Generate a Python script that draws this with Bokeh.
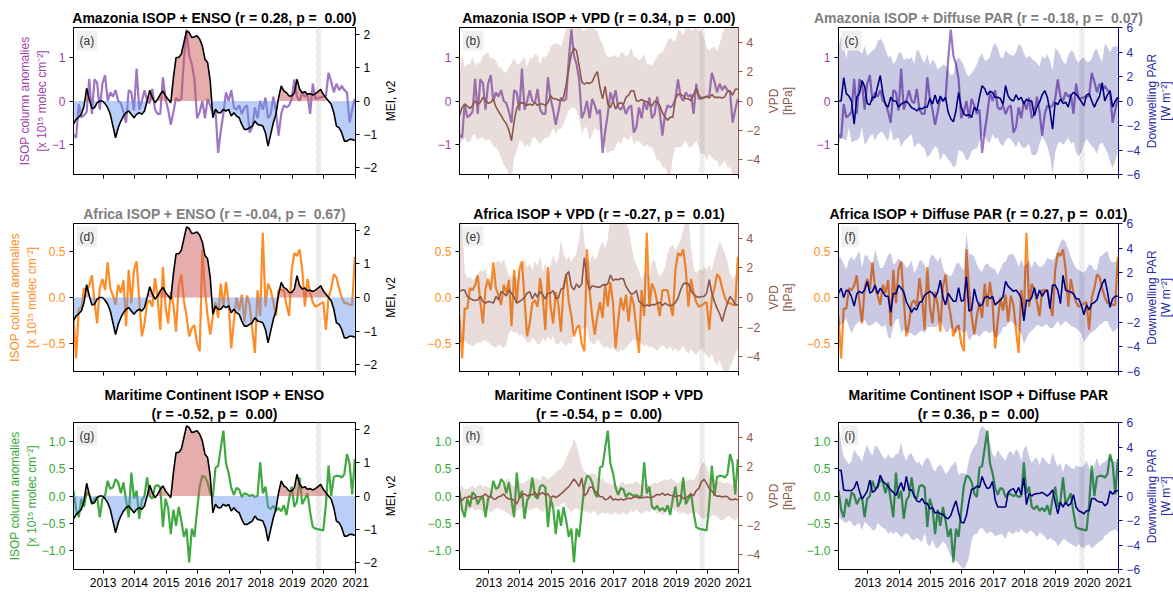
import numpy as np
from bokeh.embed import file_html
from bokeh.layouts import gridplot
from bokeh.models import (BoxAnnotation, CustomJSTickFormatter, FixedTicker, Label,
                          LinearAxis, Range1d, Title)
from bokeh.plotting import figure
from bokeh.resources import INLINE

FONT = "Liberation Sans"
NAN = float("nan")

# Monthly time axis (Jan 2012 .. Dec 2020) in decimal years
months = np.arange(108)
t = 2012 + (months + 0.75) / 12
X_START, X_END = t[0], 2021.0
GAP_START, GAP_END = 2019.75, 2019.917
YEAR_TICKS = list(range(2013, 2022))

# ---------------- ISOP column anomalies [x 1e15 molec cm-2] ----------------
isop_amazonia = [
    -0.77, -0.85, -0.07, -0.38, -0.33, -0.25, 0.51, -0.30, 0.50, 0.42, -0.20, 0.40,
    0.60, 0.00, 0.20, 0.10, 0.25, 0.00, -0.05, -0.25, -0.50, 0.25, 0.20, -0.22,
    0.75, -0.20, 0.00, 0.25, 0.00, -0.05, 0.28, -0.20, -0.30, -0.30, 0.55, 0.05,
    -0.20, -0.55, -0.25, 0.08, 0.00, 0.05, 0.95, 1.65, 1.05, 0.85, 0.50, -0.40,
    -0.25, 0.00, -0.40, 0.05, -0.10, -0.30, -0.20, -1.20, -0.70, -0.30, 0.20, 0.00,
    0.25, -0.15, -0.20, -0.10, -0.30, -0.15, -0.10, -0.73, -0.60, -0.15, -0.40, 0.00,
    -0.20, 0.08, -0.40, -0.30, 0.10, -0.25, -0.80, -0.30, -0.10, -0.15, -0.10, 0.05,
    0.50, 0.10, 0.00, 0.20, 0.10, 0.15, -0.30, 0.40, 0.05, NAN, NAN, 0.10,
    0.12, 0.65, 0.45, 0.20, 0.40, 0.25, 0.35, 0.25, 0.20, -0.50, -0.20, 0.05,
]
isop_africa = [
    -0.20, -0.66, -0.12, -0.12, 0.10, 0.08, 0.13, 0.24, -0.05, -0.28, 0.10, 0.20,
    0.08, 0.38, 0.10, 0.02, -0.08, 0.14, 0.05, 0.19, -0.31, 0.30, -0.06, 0.30,
    0.39, -0.02, -0.42, -0.28, -0.06, -0.03, -0.10, 0.21, 0.00, -0.35, 0.33, -0.10,
    -0.28, 0.06, -0.08, -0.37, 0.12, 0.25, -0.04, -0.20, -0.42, -0.33, -0.30, -0.50,
    -0.58, 0.52, 0.08, -0.20, -0.40, -0.20, -0.05, -0.22, 0.15, -0.10, 0.17, -0.05,
    -0.55, -0.25, 0.00, -0.14, 0.03, -0.26, 0.02, -0.08, -0.35, -0.60, 0.08, -0.20,
    0.70, -0.10, 0.15, 0.08, -0.05, -0.20, 0.08, 0.08, 0.08, -0.08, -0.20, 0.30,
    0.48, 0.45, 0.52, 0.30, -0.10, 0.20, 0.05, -0.05, -0.10, NAN, NAN, -0.05,
    -0.35, 0.00, 0.10, 0.25, 0.22, 0.10, 0.00, -0.06, -0.06, -0.08, -0.08, 0.44,
]
isop_maritime = [
    0.10, -0.25, -0.39, -0.05, -0.20, 0.07, 0.02, -0.15, -0.05, -0.02, -0.39, -0.05,
    0.00, 0.28, 0.13, 0.16, 0.31, 0.25, 0.05, 0.25, -0.08, -0.39, 0.43, -0.05,
    0.10, -0.42, -0.08, 0.00, 0.34, 0.00, -0.05, 0.18, 0.20, 0.16, -0.57, -0.05,
    -0.22, -0.70, -0.25, -0.55, -0.20, -0.45, -0.75, -0.60, -1.22, -0.60, -0.75, -0.27,
    0.18, 0.37, 0.35, 0.25, 0.05, -0.02, 0.52, 0.55, 0.88, 1.20, 0.60, 0.42,
    0.15, 0.02, 0.15, 0.12, -0.02, 0.05, 0.03, 0.00, 0.02, -0.02, 0.00, 0.62,
    0.05, 0.17, -0.20, -0.24, -0.18, -0.27, -0.22, -0.28, -0.17, -0.35, -0.05, 0.17,
    -0.20, -0.10, 0.34, -0.15, -0.05, 0.05, -0.30, -0.57, -0.60, NAN, NAN, -0.63,
    -0.15, 0.56, 0.00, 0.35, 0.37, 0.37, 0.34, 0.40, 0.77, 0.60, 0.03, 0.68,
]

# ---------------- Multivariate ENSO Index, v2 ----------------
mei = [
    -0.69, -0.55, -0.48, -0.40, -0.15, 0.38, 0.05, -0.22, -0.20, -0.05, 0.00, 0.00,
    -0.08, -0.20, -0.40, -0.75, -1.10, -0.80, -0.60, -0.45, -0.35, -0.30, -0.40, -0.50,
    -0.40, -0.35, -0.40, -0.30, 0.00, 0.32, 0.10, -0.05, 0.05, 0.20, 0.30, 0.15,
    0.05, -0.05, 0.70, 1.30, 1.30, 1.40, 1.75, 2.10, 2.05, 1.90, 1.92, 1.95,
    1.85, 1.65, 1.25, 1.15, 0.60, -0.50, -0.25, -0.35, -0.35, -0.25, -0.30, -0.25,
    -0.45, -0.35, -0.45, -0.50, -0.70, -0.85, -0.85, -0.80, -0.75, -0.60, -0.70, -0.72,
    -0.75, -0.95, -1.35, -1.00, -0.65, -0.40, 0.10, 0.45, 0.30, 0.25, 0.15, 0.15,
    0.25, 0.65, 0.35, 0.25, 0.28, 0.20, 0.22, 0.18, 0.22, 0.28, 0.35, 0.20,
    0.10, 0.00, -0.10, -0.35, -0.75, -0.80, -0.95, -1.20, -1.20, -1.15, -1.15, -1.18,
]

# ---------------- VPD anomalies [hPa]: mean, lower, upper ----------------
vpd_amazonia = [
    -1.0, -0.45, -0.2, -0.35, -0.5, -0.3, 0.0, -0.2, -0.1, 0.25, 0.05, -0.15,
    -0.1, 0.14, -0.4, -0.7, -1.0, -1.3, -1.55, -2.0, -2.7, -1.4, -0.5, -0.2,
    -0.1, -0.2, -0.3, -0.2, -0.3, -0.1, -0.3, -0.2, -0.2, -0.3, -0.1, 0.36,
    0.15, 0.15, 0.05, 0.05, 0.25, 1.1, 2.2, 3.2, 3.6, 3.4, 2.4, 1.3,
    1.15, 1.25, 1.2, 1.3, 1.7, 2.0, 0.9, 0.15, 1.0, -0.2, -0.45, 0.0,
    -0.55, -0.2, -0.1, -0.25, 0.25, 0.4, 0.7, 0.7, 0.0, 0.0, 0.1, 0.0,
    -0.05, -0.2, -0.35, 0.0, -0.1, -0.3, -0.8, -1.1, -1.3, -1.1, -1.1, 0.15,
    0.45, 0.45, 0.35, 0.15, 0.15, 0.0, 0.45, 0.85, 0.4, 0.15, 0.25, 0.3,
    0.2, 0.45, 0.25, 0.25, 0.25, 0.2, 0.3, 0.65, 0.7, 0.4, 0.8, 0.8,
]
vpd_amazonia_lo = [
    -3.15, -2.7, -2.5, -2.8, -2.8, -2.35, -2.25, -2.7, -2.5, -2.5, -2.7, -2.6,
    -2.7, -3.15, -3.15, -3.4, -3.85, -4.3, -4.6, -5.0, -5.3, -3.85, -3.4, -2.7,
    -2.7, -3.15, -2.95, -3.15, -2.5, -2.5, -2.7, -2.95, -2.7, -2.5, -2.5, -2.25,
    -1.8, -2.25, -1.9, -1.9, -1.55, -1.1, -0.65, -0.45, -0.45, -0.65, -1.1, -2.25,
    -1.8, -1.8, -2.7, -2.25, -1.8, -2.0, -2.0, -2.7, -3.15, -3.6, -3.4, -3.4,
    -3.15, -2.7, -2.95, -2.5, -2.5, -2.7, -2.25, -2.95, -2.7, -2.7, -2.95, -3.15,
    -2.95, -3.15, -3.15, -3.6, -4.05, -4.05, -4.5, -4.5, -5.0, -5.3, -3.85, -3.15,
    -3.15, -3.15, -2.95, -2.7, -3.15, -3.15, -2.95, -2.7, -3.15, -3.6, -3.6, -4.05,
    -3.6, -3.85, -4.05, -4.05, -4.5, -4.3, -4.05, -4.5, -4.5, -5.0, -5.3, -5.3,
]
vpd_amazonia_hi = [
    1.84, 3.2, 2.3, 2.5, 2.5, 3.0, 2.4, 2.6, 2.6, 3.1, 3.2, 3.3,
    2.9, 2.9, 2.75, 2.3, 2.3, 1.95, 1.95, 2.3, 2.6, 2.9, 2.5, 2.5,
    2.75, 3.0, 2.3, 2.9, 2.9, 3.2, 3.1, 2.5, 3.0, 3.0, 3.2, 3.65,
    3.9, 3.9, 3.9, 3.65, 4.3, 4.9, 5.3, 5.3, 5.3, 5.3, 5.3, 4.8,
    4.8, 4.9, 5.3, 5.3, 4.8, 4.8, 4.2, 3.9, 3.3, 3.0, 3.0, 3.1,
    3.1, 2.9, 3.3, 3.3, 3.0, 3.2, 3.65, 3.0, 3.0, 2.75, 2.9, 3.2,
    2.5, 2.5, 2.4, 2.75, 3.0, 3.3, 3.3, 3.65, 4.1, 4.3, 4.1, 4.1,
    4.8, 4.8, 4.45, 5.0, 5.0, 4.8, 4.9, 5.0, 4.8, 4.8, 4.3, 3.65,
    3.4, 3.65, 3.65, 3.4, 3.9, 4.6, 5.0, 5.0, 5.3, 5.3, 5.3, 5.3,
]
vpd_africa = [
    0.4, 0.5, 0.5, 0.07, -0.05, -0.16, -0.2, -0.16, 0.07, -0.27, -0.38, -0.27,
    -0.3, -0.38, 0.07, -0.16, 0.4, 0.29, 0.1, 0.52, 0.29, 0.02, -0.38, -0.27,
    -0.16, 0.02, 0.29, 0.4, -0.1, 0.29, 0.02, 0.4, 0.18, -0.1, 0.29, 0.29,
    0.47, -0.05, -0.05, 0.56, 0.63, 1.53, 1.75, 0.74, 0.52, 0.92, 0.68, 0.92,
    2.7, 1.2, 0.52, 0.8, 0.74, 0.7, 0.7, 0.85, 0.85, 0.92, 1.53, 1.15,
    1.24, 1.2, 1.28, 1.26, 0.74, 0.47, 0.22, 0.29, 0.47, -0.27, -0.38, -0.6,
    -0.5, -0.56, -0.47, -0.5, -0.38, -0.34, -0.54, -0.38, -0.5, -0.56, -0.5, -0.34,
    -0.05, 0.52, 0.92, 0.97, 0.92, 0.47, 0.22, 0.07, 0.0, 0.07, 0.07, 0.29,
    1.2, 0.29, -0.27, -0.72, -1.1, -1.62, -0.95, -0.38, 0.07, -0.16, -0.5, -0.5,
]
vpd_africa_lo = [
    -2.9, -3.0, -2.9, -3.1, -3.2, -3.3, -3.2, -3.0, -3.1, -2.9, -2.9, -3.0,
    -3.2, -3.3, -3.4, -3.2, -3.3, -3.4, -3.2, -2.4, -2.2, -2.4, -2.3, -2.6,
    -2.5, -2.8, -3.0, -3.1, -2.7, -2.9, -3.2, -3.1, -2.7, -3.0, -2.6, -2.9,
    -2.6, -3.1, -3.2, -2.9, -3.1, -3.3, -3.0, -3.2, -2.0, -2.1, -1.9, -2.2,
    -2.0, -2.1, -2.9, -3.1, -3.2, -2.8, -3.0, -3.3, -3.4, -3.3, -3.5, -3.3,
    -3.6, -3.7, -3.5, -3.6, -3.4, -3.2, -3.0, -2.8, -3.0, -2.9, -3.1, -3.3,
    -3.2, -3.4, -3.3, -3.5, -3.6, -3.4, -3.2, -3.4, -3.5, -3.3, -3.6, -3.4,
    -3.7, -3.5, -3.3, -3.6, -3.8, -3.5, -3.7, -3.9, -3.6, -3.4, -3.7, -3.9,
    -4.1, -3.8, -4.3, -4.6, -4.2, -4.8, -5.1, -5.2, -4.7, -4.3, -3.8, -3.5,
]
vpd_africa_hi = [
    5.3, 5.3, 1.8, 1.3, 1.4, 1.2, 1.3, 1.6, 1.9, 1.7, 2.0, 1.1,
    0.9, 1.6, 2.4, 2.5, 2.3, 2.6, 2.0, 1.5, 1.4, 1.6, 1.3, 1.7,
    2.3, 2.6, 2.0, 2.3, 1.8, 2.5, 2.1, 2.8, 1.7, 2.4, 1.6, 2.2,
    2.9, 2.3, 2.6, 3.9, 3.0, 2.5, 2.8, 2.4, 2.7, 3.0, 4.0, 5.4,
    3.8, 2.6, 2.4, 2.9, 2.5, 2.8, 3.4, 3.8, 3.3, 4.0, 5.4, 5.4,
    5.4, 5.4, 5.4, 5.4, 5.0, 4.6, 3.6, 2.6, 2.2, 1.8, 1.2, 1.6,
    1.9, 1.3, 2.4, 2.6, 1.8, 1.4, 1.7, 2.0, 3.0, 3.4, 3.6, 3.2,
    3.5, 3.9, 4.6, 5.4, 5.4, 3.4, 2.0, 1.6, 1.9, 1.8, 2.1, 1.9,
    2.2, 1.8, 2.6, 3.2, 3.8, 3.4, 3.0, 2.4, 1.6, 1.2, 1.5, 1.3,
]
vpd_maritime = [
    -0.1, -0.3, -0.1, -0.1, 0.0, -0.2, -0.1, -0.05, -0.05, 0.0, 0.14, -0.05,
    0.0, -0.2, -0.2, -0.05, 0.0, 0.14, -0.1, -0.2, -0.2, -0.3, -0.55, -0.15,
    0.1, 0.14, 0.0, 0.1, 0.07, 0.25, 0.0, 0.14, 0.23, 0.07, 0.14, -0.14,
    0.0, -0.1, 0.0, 0.14, 0.3, 0.48, 0.64, 0.89, 1.16, 0.93, 0.64, 1.23,
    0.0, 0.18, 0.6, 0.6, 0.34, 0.2, -0.05, -0.05, -0.25, -0.2, 0.0, -0.27,
    -0.2, -0.27, -0.2, -0.27, -0.2, -0.15, -0.18, -0.07, -0.05, -0.14, -0.11, -0.1,
    -0.07, -0.1, -0.11, 0.0, 0.11, 0.07, 0.2, 0.05, 0.14, 0.05, 0.02, -0.05,
    0.02, 0.02, -0.18, -0.15, 0.0, 0.1, 0.02, 0.36, 0.52, 0.98, 1.14, 0.86,
    0.52, 0.34, 0.11, -0.02, 0.0, -0.07, -0.02, -0.05, -0.23, -0.25, -0.2, -0.27,
]
vpd_maritime_lo = [
    -0.9, -1.1, -1.0, -0.95, -0.9, -0.8, -1.0, -0.9, -0.95, -1.1, -0.8, -0.9,
    -1.1, -1.0, -0.8, -0.85, -0.95, -1.0, -1.1, -1.2, -1.4, -1.3, -1.0, -0.9,
    -0.8, -0.9, -0.8, -1.0, -0.9, -0.85, -0.8, -1.0, -1.1, -0.8, -1.0, -0.9,
    -0.8, -0.7, -0.75, -0.55, -0.45, -0.7, -0.9, -1.1, -0.9, -0.8, -1.0, -0.9,
    -1.1, -1.0, -1.2, -1.1, -1.0, -1.3, -1.25, -1.1, -1.2, -1.1, -1.3, -1.2,
    -1.1, -1.3, -1.2, -1.1, -1.3, -1.15, -1.0, -1.1, -0.9, -1.1, -1.2, -1.1,
    -1.0, -1.1, -0.9, -1.0, -1.2, -1.1, -1.3, -1.2, -1.0, -0.9, -0.8, -1.0,
    -1.1, -1.2, -1.1, -1.2, -1.3, -1.15, -1.2, -1.1, -1.25, -1.45, -1.6, -1.4,
    -1.5, -1.35, -1.3, -1.4, -1.6, -1.68, -1.55, -1.35, -1.4, -1.6, -1.7, -1.5,
]
vpd_maritime_hi = [
    0.6, 0.7, 0.4, 0.5, 0.6, 0.7, 0.5, 0.7, 0.8, 0.6, 0.7, 0.6,
    0.45, 0.4, 0.8, 0.75, 0.9, 0.6, 1.1, 1.2, 0.8, 0.6, 1.0, 0.95,
    0.85, 0.9, 1.05, 1.25, 0.95, 1.2, 1.15, 1.05, 1.4, 1.3, 1.1, 1.27,
    1.4, 1.6, 1.75, 1.84, 2.1, 2.6, 3.0, 3.3, 3.9, 3.5, 2.8, 2.0,
    1.7, 1.5, 1.45, 1.55, 1.5, 1.3, 1.1, 1.2, 0.95, 0.9, 0.8, 0.8,
    0.75, 0.65, 0.9, 0.95, 0.75, 0.85, 0.85, 0.9, 1.0, 0.85, 0.75, 0.8,
    0.9, 0.7, 0.8, 0.9, 0.85, 0.95, 1.05, 1.15, 1.05, 1.2, 1.1, 0.95,
    0.85, 1.0, 0.95, 1.0, 1.1, 1.15, 1.05, 1.4, 1.6, 2.2, 2.3, 2.0,
    1.5, 1.1, 1.15, 0.95, 1.05, 0.9, 0.85, 0.95, 0.8, 0.75, 0.8, 0.65,
]

# ---------------- Downwelling diffuse PAR anomalies [W m-2] ----------------
par_amazonia = [
    0.0, 0.0, 1.9, 0.6, 0.4, 0.0, -1.9, 0.3, 0.6, 1.67, 1.2, -0.2,
    -0.3, 0.3, 0.3, 1.2, 2.08, 0.6, -0.3, -0.5, 0.3, 0.0, 0.0, -0.5,
    -0.25, -0.15, 0.0, -0.25, -0.55, -0.65, -0.8, -0.6, -0.65, -0.5, -0.5, 0.2,
    -0.25, 0.5, -0.25, 0.4, 0.0, 0.3, -0.9, -1.45, -1.7, -0.8, 0.7, -0.5,
    -1.05, -1.2, -1.1, -1.35, -0.5, -0.8, 0.3, 1.25, 1.0, 0.5, 0.8, 0.7,
    0.3, 0.3, 0.2, -0.3, 1.25, 0.4, 0.1, 0.0, 0.5, 0.1, 0.3, -0.25,
    0.15, 0.0, 0.0, -1.2, -0.5, -0.1, 0.5, 0.85, 0.3, -0.8, -2.3, -0.1,
    -0.3, 0.15, -0.2, -0.1, -0.5, 0.45, 0.7, 0.55, 0.3, -0.05, -0.4, 0.5,
    0.6, 0.0, -0.5, 0.0, 0.4, 1.5, 0.0, 0.5, 0.85, -0.5, 0.0, 0.3,
]
par_amazonia_lo = [
    -3.5, -3.0, -3.1, -3.25, -2.16, -3.4, -3.25, -3.2, -3.0, -2.16, -3.6, -3.3,
    -2.9, -2.7, -3.25, -2.8, -2.5, -2.6, -2.98, -3.25, -2.2, -3.2, -3.1, -3.0,
    -3.8, -3.3, -3.1, -2.9, -2.7, -3.8, -3.5, -3.45, -3.7, -3.9, -4.6, -4.4,
    -4.0, -3.7, -3.9, -4.9, -4.3, -4.4, -4.8, -5.0, -5.44, -5.2, -4.0, -4.1,
    -4.3, -4.9, -4.7, -4.1, -3.9, -3.9, -3.25, -2.8, -2.9, -3.3, -3.4, -2.7,
    -3.1, -3.0, -3.5, -3.7, -3.25, -3.0, -3.1, -3.4, -3.8, -3.25, -3.7, -3.9,
    -3.7, -3.5, -4.34, -4.45, -4.3, -3.5, -2.9, -3.25, -3.7, -4.5, -5.98, -4.2,
    -3.52, -3.3, -3.6, -3.3, -3.0, -3.5, -3.3, -4.2, -4.5, -4.2, -3.52, -3.1,
    -3.4, -3.7, -3.9, -4.34, -3.5, -3.4, -3.8, -4.2, -4.9, -5.5, -4.9, -4.1,
]
par_amazonia_hi = [
    4.4, 5.3, 4.5, 3.5, 4.54, 5.0, 4.3, 4.2, 4.1, 3.85, 4.5, 3.7,
    3.9, 4.1, 4.26, 4.85, 5.1, 4.8, 4.2, 3.58, 3.7, 3.0, 3.3, 3.9,
    4.0, 3.3, 3.5, 3.4, 3.6, 3.03, 4.2, 4.0, 3.4, 3.1, 3.85, 2.9,
    3.4, 3.1, 2.6, 2.76, 2.95, 2.9, 2.5, 2.1, 2.21, 3.3, 3.55, 3.3,
    2.9, 2.21, 2.0, 2.3, 2.6, 3.0, 3.58, 3.9, 3.3, 3.3, 3.6, 4.4,
    4.75, 4.3, 3.6, 3.5, 4.13, 3.9, 3.75, 3.7, 4.0, 4.67, 4.5, 3.9,
    3.5, 3.72, 3.44, 3.3, 3.1, 2.8, 3.7, 3.44, 3.8, 3.3, 2.5, 4.3,
    4.13, 3.7, 3.2, 3.0, 3.7, 4.13, 4.0, 3.4, 3.1, 3.44, 3.58, 3.2,
    3.2, 3.44, 4.1, 4.26, 3.6, 3.2, 4.7, 4.4, 4.0, 4.4, 4.5, 4.4,
]
par_africa = [
    0.35, 0.75, 0.0, 0.6, 0.5, 0.05, -0.7, 0.3, 0.5, 0.35, 0.6, 1.3,
    0.35, 0.5, 1.0, 0.3, 0.75, 0.45, 0.1, 0.1, -1.2, 0.35, 0.3, 1.0,
    0.75, 0.45, -0.35, -0.75, -1.2, -0.85, -1.0, -0.4, -0.3, 0.2, 0.35, 0.5,
    0.35, 0.0, 0.45, 1.4, 0.0, -0.6, 0.35, 0.0, -0.3, -0.3, 0.8, -0.3,
    -0.2, 1.7, -1.1, -1.0, 0.7, -0.2, -0.7, -0.6, 0.0, 0.1, -0.1, 0.1,
    -0.6, -0.4, -0.2, 0.05, 1.3, 0.9, 0.7, 0.5, 0.6, 0.35, -0.1, -1.9,
    -0.2, -0.3, 0.0, 0.8, -0.1, 0.6, 0.1, 0.45, 0.6, -0.9, 1.0, 1.0,
    0.6, -0.5, 1.8, 0.6, 0.5, 0.45, 0.3, -0.1, -0.1, -0.6, -1.4, -0.6,
    -1.0, -0.5, -0.4, -0.2, 0.5, 1.1, 1.5, 0.5, -0.8, -0.1, 0.1, 0.1,
]
par_africa_lo = [
    -2.4, -2.2, -2.0, -1.7, -2.4, -2.9, -2.4, -2.1, -1.9, -2.0, -1.8, -2.2,
    -2.3, -2.2, -2.0, -2.0, -2.3, -2.4, -2.2, -3.2, -3.3, -2.3, -1.8, -1.7,
    -2.9, -2.6, -2.8, -2.9, -2.9, -3.1, -3.0, -2.8, -2.7, -2.9, -2.4, -2.4,
    -2.4, -2.4, -2.3, -1.9, -2.3, -2.8, -2.8, -2.4, -2.7, -2.9, -2.6, -2.7,
    -2.9, -2.7, -3.5, -3.2, -2.9, -3.0, -3.2, -2.9, -2.7, -2.8, -2.9, -2.7,
    -3.2, -3.2, -2.9, -2.4, -2.4, -2.1, -1.9, -2.1, -2.3, -2.7, -2.9, -3.8,
    -3.3, -2.9, -2.7, -2.5, -2.2, -2.3, -2.4, -2.2, -2.2, -2.5, -2.5, -2.2,
    -1.9, -2.3, -2.1, -1.9, -2.1, -2.3, -2.4, -2.5, -2.7, -2.9, -3.6, -3.3,
    -3.0, -2.8, -2.7, -2.5, -2.2, -2.1, -1.9, -1.9, -2.4, -2.8, -2.7, -2.4,
]
par_africa_hi = [
    3.3, 3.2, 2.7, 2.3, 3.05, 3.3, 3.0, 3.4, 3.8, 2.4, 3.4, 3.4,
    3.0, 2.7, 3.9, 3.1, 2.4, 2.4, 2.9, 3.45, 3.65, 2.7, 2.8, 3.2,
    2.9, 2.8, 2.4, 2.6, 3.0, 2.0, 2.35, 3.0, 3.0, 2.6, 2.0, 3.2,
    3.5, 3.2, 2.9, 3.3, 2.4, 1.95, 1.8, 1.7, 2.1, 2.7, 2.85, 2.5,
    2.2, 5.2, 3.5, 3.5, 3.3, 2.7, 2.25, 2.1, 2.6, 2.8, 2.5, 2.4,
    2.3, 1.8, 2.3, 2.8, 2.9, 3.4, 3.55, 3.5, 3.1, 2.5, 3.1, 2.5,
    2.7, 3.0, 2.4, 3.0, 2.7, 2.5, 2.5, 2.8, 3.2, 3.1, 3.0, 3.3,
    3.9, 4.5, 4.75, 4.5, 3.9, 3.3, 2.8, 2.4, 2.2, 2.1, 2.0, 2.3,
    2.7, 2.6, 2.2, 2.25, 3.3, 3.4, 3.6, 3.8, 3.05, 2.85, 2.9, 3.0,
]
par_maritime = [
    2.1, 2.1, 0.5, 0.45, 0.45, 0.45, 0.65, 1.2, 0.4, -0.25, 0.05, 0.4,
    1.3, 0.3, 0.45, 0.8, 1.7, 1.2, 1.0, 0.8, 0.5, 0.3, 0.05, 0.6,
    1.1, 0.4, 1.6, 0.5, 0.5, 0.0, -0.4, -0.5, -0.2, -0.6, -0.6, -1.05,
    -0.95, -1.4, -1.3, -1.45, -1.5, -1.75, -1.85, -1.6, -0.95, -0.4, -1.35, -2.15,
    -2.2, -1.6, -0.4, 0.55, 0.6, 0.8, 0.7, 1.6, 1.0, 0.6, 0.7, 1.2,
    -0.3, -0.9, -0.9, -0.9, -0.9, 0.3, 0.5, 0.6, 0.2, 0.7, 0.1, 1.5,
    -0.7, 0.2, 0.0, 0.15, 0.2, 0.2, 0.3, 0.15, 0.0, 0.2, 0.5, -0.5,
    -1.45, -0.5, -0.9, -0.5, -0.8, -0.6, 0.1, -0.9, -1.2, -1.3, -1.45, -1.2,
    -1.2, -0.2, -0.2, -0.4, -0.5, -0.5, -0.8, -0.6, 0.4, 0.15, 0.4, 0.45,
]
par_maritime_lo = [
    -1.74, -1.9, -2.1, -2.2, -2.0, -2.15, -2.5, -2.3, -2.2, -2.8, -2.1, -2.3,
    -2.5, -2.8, -2.8, -2.2, -2.4, -2.6, -2.7, -3.1, -2.9, -3.1, -2.9, -3.1,
    -3.37, -3.2, -3.0, -3.2, -3.5, -3.64, -3.4, -3.6, -3.78, -3.0, -3.9, -4.15,
    -3.6, -4.1, -4.3, -4.0, -3.7, -3.9, -4.4, -4.9, -5.1, -5.3, -5.5, -5.8,
    -5.95, -5.6, -5.0, -3.6, -3.1, -3.1, -2.7, -2.6, -2.9, -3.1, -2.9, -3.0,
    -3.3, -3.2, -3.1, -3.2, -3.5, -2.9, -3.0, -3.1, -2.85, -3.0, -2.7, -2.9,
    -3.1, -2.9, -2.83, -3.1, -3.37, -3.0, -3.1, -3.3, -3.64, -3.4, -3.6, -3.7,
    -4.1, -3.9, -3.5, -3.6, -3.8, -3.9, -4.05, -4.18, -3.9, -4.2, -4.25, -4.0,
    -3.95, -4.3, -4.1, -3.9, -3.7, -3.64, -3.25, -3.1, -2.9, -2.83, -2.7, -2.96,
]
par_maritime_hi = [
    5.87, 4.3, 3.2, 2.9, 2.6, 2.9, 3.8, 3.4, 3.2, 2.8, 3.6, 4.2,
    3.6, 3.3, 4.1, 3.97, 3.6, 3.2, 3.02, 3.42, 3.1, 3.1, 3.4, 3.5,
    4.37, 3.3, 2.9, 3.4, 3.5, 3.02, 2.7, 2.8, 2.4, 2.9, 3.15, 2.9,
    2.3, 2.0, 2.4, 2.6, 2.25, 1.8, 2.0, 2.4, 2.6, 2.85, 1.7, 1.9,
    1.85, 1.8, 3.0, 3.7, 4.0, 4.3, 5.33, 5.73, 5.5, 5.2, 4.3, 3.4,
    3.15, 3.8, 3.4, 3.1, 2.9, 3.5, 3.7, 3.3, 3.8, 3.6, 2.9, 3.9,
    4.1, 3.2, 2.7, 3.0, 3.15, 2.5, 3.2, 3.0, 2.7, 2.6, 3.6, 2.9,
    2.4, 2.7, 1.95, 2.7, 2.5, 2.3, 2.2, 2.5, 2.4, 2.35, 2.5, 2.9,
    2.3, 2.0, 2.5, 3.15, 2.4, 2.7, 2.8, 3.0, 3.3, 2.9, 2.8, 2.74,
]

# ---------------- correlation statistics per panel ----------------
regions = ["Amazonia", "Africa", "Maritime Continent"]
variables = ["ENSO", "VPD", "Diffuse PAR"]
corr_r = [["0.28", "0.34", "-0.18"],
          ["-0.04", "-0.27", "0.27"],
          ["-0.52", "-0.54", "0.36"]]
corr_p = [["0.00", "0.00", "0.07"],
          ["0.67", "0.01", "0.01"],
          ["0.00", "0.00", "0.00"]]
letters = [["a", "b", "c"], ["d", "e", "f"], ["g", "h", "i"]]

# ---------------- styling ----------------
REGION_STYLE = [
    dict(isop=isop_amazonia, line="#9467bd", text="#a040a8", lim=1.7, ticks=[-1, 0, 1], dec=0,
         vpd=(vpd_amazonia, vpd_amazonia_lo, vpd_amazonia_hi), par=(par_amazonia, par_amazonia_lo, par_amazonia_hi)),
    dict(isop=isop_africa, line="#ff7f0e", text="#ff8c1a", lim=0.8, ticks=[-0.5, 0, 0.5], dec=1,
         vpd=(vpd_africa, vpd_africa_lo, vpd_africa_hi), par=(par_africa, par_africa_lo, par_africa_hi)),
    dict(isop=isop_maritime, line="#2ca02c", text="#33a833", lim=1.35, ticks=[-1, -0.5, 0, 0.5, 1], dec=1,
         vpd=(vpd_maritime, vpd_maritime_lo, vpd_maritime_hi), par=(par_maritime, par_maritime_lo, par_maritime_hi)),
]
VPD_COLOR = "#8c564b"
PAR_COLOR = "#000080"
PAR_TEXT = "#2a2aa8"

ISOP_LABEL = "ISOP column anomalies\n[x 10\u00b9\u2075 molec cm\u207b\u00b2]"
MEI_LABEL = "MEI, v2"
VPD_LABEL = "VPD\n[hPa]"
PAR_LABEL = "Downwelling PAR\n[W m\u207b\u00b2]"

# (height, top border, bottom border) per row; (width, left border, right border) per column.
# The vertical title of each right-hand axis sits in the gutter left of the next panel,
# and the last column's title gets its own narrow strip.
ROW_GEOM = [(189, 27, 15), (191, 34, 9), (212, 42, 23)]
COL_GEOM = [(380, 73, 22), (383, 73, 25), (380, 70, 24)]
STRIP_W, STRIP_LB = 30, 28


def signed_formatter(decimals):
    return CustomJSTickFormatter(args=dict(d=decimals), code="""
        const s = Math.abs(tick).toFixed(d);
        return tick < 0 ? "\u2212" + s : s;
    """)


def style_axis(ax, label_color, line_color):
    ax.major_tick_out = 4
    ax.major_tick_in = 0
    ax.minor_tick_out = 0
    ax.minor_tick_in = 0
    ax.major_tick_line_color = line_color
    ax.axis_line_color = line_color
    ax.major_label_text_color = label_color
    ax.major_label_text_font = FONT
    ax.major_label_text_font_size = "12px"
    ax.major_label_standoff = 4
    ax.axis_label_text_font = FONT
    ax.axis_label_text_font_size = "12px"
    ax.axis_label_text_font_style = "normal"


def zero_split(x, y):
    """Insert zero crossings so positive / negative fills meet on the line."""
    xs, ys = [x[0]], [y[0]]
    for i in range(1, len(x)):
        if (y[i - 1] < 0 < y[i]) or (y[i - 1] > 0 > y[i]):
            f = y[i - 1] / (y[i - 1] - y[i])
            xs.append(x[i - 1] + f * (x[i] - x[i - 1]))
            ys.append(0.0)
        xs.append(x[i])
        ys.append(y[i])
    xs, ys = np.array(xs), np.array(ys)
    return xs, np.clip(ys, 0, None), np.clip(ys, None, 0)


def title_style(ttl, color, standoff):
    ttl.text_font = FONT
    ttl.text_font_size = "14px"
    ttl.text_font_style = "bold"
    ttl.align = "center"
    ttl.text_color = color
    ttl.standoff = standoff


def make_panel(row, col):
    st = REGION_STYLE[row]
    h, tb, bb = ROW_GEOM[row]
    w, lb, rb = COL_GEOM[col]
    lim = st["lim"]

    p = figure(width=w, height=h, x_range=Range1d(X_START, X_END), y_range=Range1d(-lim, lim),
               output_backend="svg", toolbar_location=None, tools="",
               min_border_left=lb, min_border_right=rb, min_border_top=tb, min_border_bottom=bb)
    p.grid.visible = False
    p.outline_line_color = "black"
    p.outline_line_width = 1
    p.background_fill_color = "white"
    p.border_fill_color = "white"

    # title (two lines on the bottom row)
    pval = corr_p[row][col]
    color = "#808080" if float(pval) > 0.05 else "black"
    head = f"{regions[row]} ISOP + {variables[col]}"
    stats = f"(r = {corr_r[row][col]}, p = \u00a0{pval})"
    if row == 2:
        sub = Title(text=stats)
        title_style(sub, color, 2)
        p.add_layout(sub, "above")
        p.title.text = head
        title_style(p.title, color, 0)
    else:
        p.title.text = f"{head} {stats}"
        title_style(p.title, color, 4)

    # x axis
    xa = p.xaxis[0]
    style_axis(xa, "black", "black")
    xa.ticker = FixedTicker(ticks=YEAR_TICKS)
    if row < 2:
        xa.formatter = CustomJSTickFormatter(code='return "";')
        xa.major_label_text_font_size = "1px"
        xa.major_label_standoff = 0
    else:
        xa.formatter = signed_formatter(0)

    # left (ISOP) axis; its title slot carries the label of the axis to its left
    ya = p.yaxis[0]
    style_axis(ya, st["text"], "black")
    ya.ticker = FixedTicker(ticks=st["ticks"])
    ya.formatter = signed_formatter(st["dec"])
    narrow = row == 0
    if col == 0:
        ya.axis_label, ya.axis_label_text_color = ISOP_LABEL, st["text"]
        ya.axis_label_standoff = 0
        ya.axis_label_text_line_height = 1.2
    elif col == 1:
        ya.axis_label, ya.axis_label_text_color = MEI_LABEL, "black"
        ya.axis_label_standoff = 37 if narrow else 27
    else:
        ya.axis_label, ya.axis_label_text_color = VPD_LABEL, VPD_COLOR
        ya.axis_label_standoff = 19 if narrow else 9
        ya.axis_label_text_line_height = 1.0

    # shaded gap period
    p.add_layout(BoxAnnotation(left=GAP_START, right=GAP_END, fill_color="#cfcfcf", fill_alpha=0.45,
                               hatch_pattern="/", hatch_color="white", hatch_alpha=0.7, hatch_scale=8,
                               hatch_weight=1, line_color=None, level="underlay"))

    # ISOP anomaly line (months without data are skipped)
    isop = np.array(st["isop"], dtype=float)
    ok = ~np.isnan(isop)
    p.line(t[ok], isop[ok], line_color=st["line"], line_width=2.2, line_alpha=0.9)

    # right-hand variable
    if col == 0:
        rlim, rticks, rcol, rtext = 2.2, [-2, -1, 0, 1, 2], "black", "black"
    elif col == 1:
        rlim, rticks, rcol, rtext = 5, [-4, -2, 0, 2, 4], VPD_COLOR, VPD_COLOR
    else:
        rlim, rticks, rcol, rtext = 6, [-6, -4, -2, 0, 2, 4, 6], PAR_COLOR, PAR_TEXT
    p.extra_y_ranges = {"right": Range1d(-rlim, rlim)}
    ra = LinearAxis(y_range_name="right")
    style_axis(ra, rtext, rcol)
    ra.ticker = FixedTicker(ticks=rticks)
    ra.formatter = signed_formatter(0)
    p.add_layout(ra, "right")

    if col == 0:
        xs, pos, neg = zero_split(t, np.array(mei))
        p.varea(x=xs, y1=0, y2=pos, fill_color="#cd5c5c", fill_alpha=0.5, y_range_name="right")
        p.varea(x=xs, y1=0, y2=neg, fill_color="#6495ed", fill_alpha=0.45, y_range_name="right")
        p.line(t, mei, line_color="black", line_width=1.6, y_range_name="right")
    else:
        mean, lo, hi = st["vpd"] if col == 1 else st["par"]
        fc = VPD_COLOR if col == 1 else PAR_COLOR
        p.varea(x=t, y1=lo, y2=hi, fill_color=fc, fill_alpha=0.2 if col == 1 else 0.21, y_range_name="right")
        p.line(t, mean, line_color=fc, line_width=1.6, y_range_name="right")

    # panel letter
    p.add_layout(Label(x=X_START, y=lim, x_offset=3, y_offset=-3, text=f"({letters[row][col]})",
                       text_align="left", text_baseline="top", text_color="#333333",
                       text_font=FONT, text_font_size="12px",
                       background_fill_color="#f0f0f0", background_fill_alpha=1.0, padding=3))
    return p


def par_title_strip(row):
    """Narrow strip holding the vertical title of the PAR axis."""
    h, tb, bb = ROW_GEOM[row]
    s = figure(width=STRIP_W, height=h, x_range=Range1d(0, 1), y_range=Range1d(0, 1),
               output_backend="svg", toolbar_location=None, tools="", x_axis_location=None,
               min_border_left=STRIP_LB, min_border_right=0, min_border_top=tb, min_border_bottom=bb)
    s.grid.visible = False
    s.outline_line_color = None
    s.border_fill_color = "white"
    ax = s.yaxis[0]
    style_axis(ax, PAR_TEXT, None)
    ax.ticker = FixedTicker(ticks=[])
    ax.major_tick_out = 0
    ax.axis_label = PAR_LABEL
    ax.axis_label_text_color = PAR_TEXT
    ax.axis_label_standoff = 1
    ax.axis_label_text_line_height = 1.0
    return s


grid = gridplot([[make_panel(r, c) for c in range(3)] + [par_title_strip(r)] for r in range(3)],
                toolbar_location=None)

with open("out.html", "w") as f:
    f.write(file_html(grid, INLINE))
